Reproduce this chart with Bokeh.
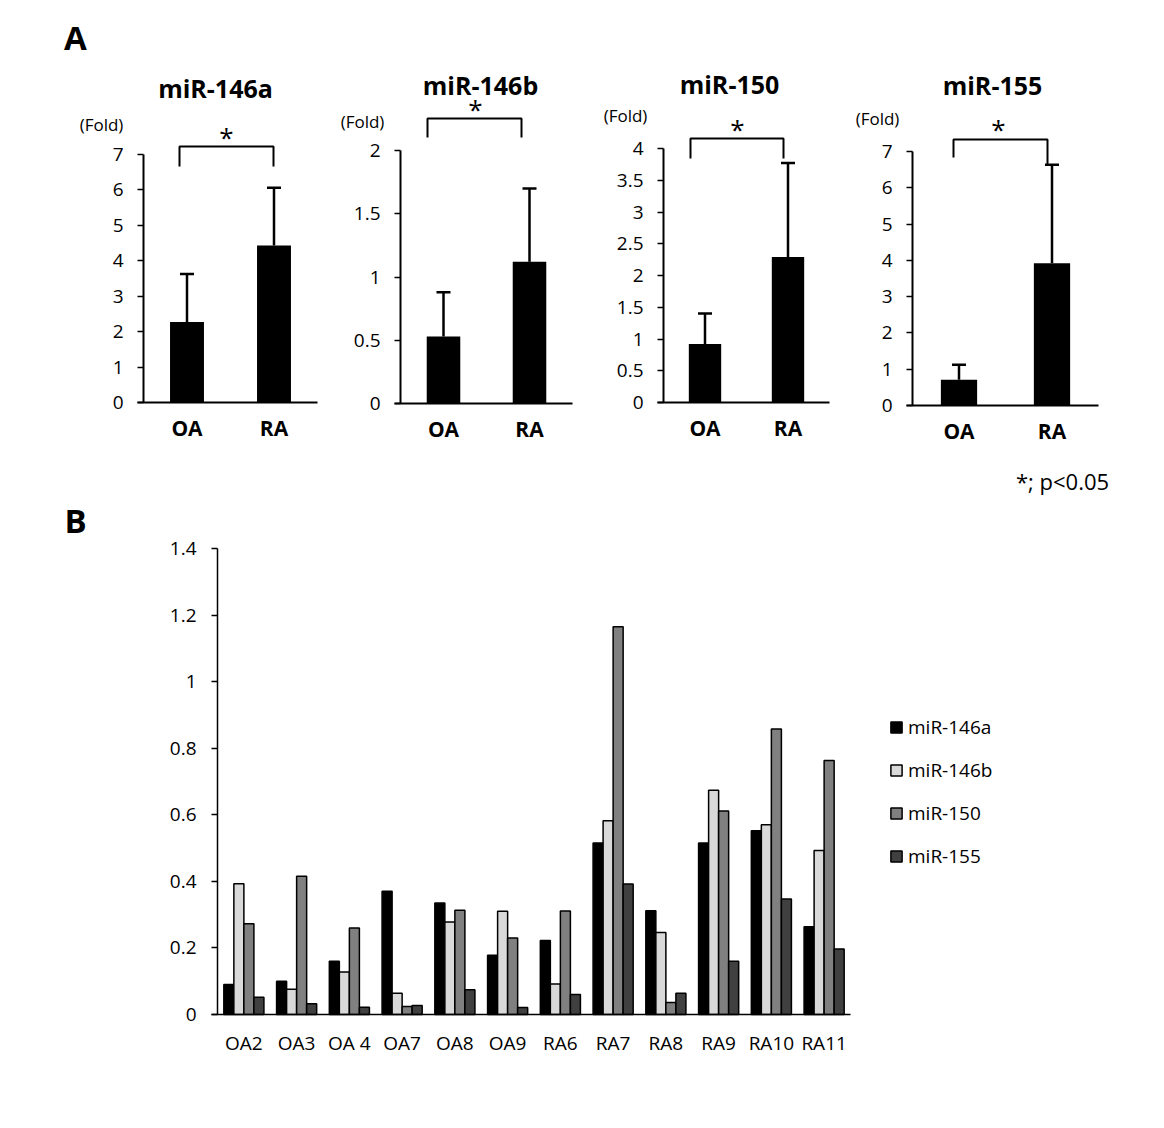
from bokeh.plotting import figure
from bokeh.layouts import row, column
from bokeh.models import (ColumnDataSource, Range1d, Whisker, TeeHead, Label, Legend,
                          LegendItem, FixedTicker, NumeralTickFormatter)
from bokeh.transform import dodge
from bokeh.embed import file_html
from bokeh.resources import INLINE

FONT = "Open Sans"

# ---------------- Panel A data ----------------
groups = ["OA", "RA"]
titles_a = ["miR-146a", "miR-146b", "miR-150", "miR-155"]
mean_146a = [2.27, 4.42]
sd_146a = [1.35, 1.63]
mean_146b = [0.53, 1.12]
sd_146b = [0.35, 0.58]
mean_150 = [0.92, 2.29]
sd_150 = [0.48, 1.48]
mean_155 = [0.71, 3.92]
sd_155 = [0.41, 2.71]
ticks_146a = [0, 1, 2, 3, 4, 5, 6, 7]
ticks_146b = [0, 0.5, 1, 1.5, 2]
ticks_150 = [0, 0.5, 1, 1.5, 2, 2.5, 3, 3.5, 4]
ticks_155 = [0, 1, 2, 3, 4, 5, 6, 7]

# ---------------- Panel B data ----------------
samples = ["OA2", "OA3", "OA 4", "OA7", "OA8", "OA9", "RA6", "RA7", "RA8", "RA9", "RA10", "RA11"]
series_names = ["miR-146a", "miR-146b", "miR-150", "miR-155"]
b_146a = [0.090, 0.100, 0.160, 0.370, 0.335, 0.178, 0.222, 0.515, 0.312, 0.515, 0.552, 0.264]
b_146b = [0.393, 0.076, 0.128, 0.064, 0.278, 0.310, 0.092, 0.582, 0.246, 0.674, 0.570, 0.493]
b_150 = [0.273, 0.415, 0.260, 0.024, 0.313, 0.230, 0.311, 1.165, 0.036, 0.611, 0.858, 0.763]
b_155 = [0.052, 0.032, 0.022, 0.027, 0.074, 0.021, 0.060, 0.392, 0.064, 0.160, 0.347, 0.197]
ticks_b = [0, 0.2, 0.4, 0.6, 0.8, 1.0, 1.2, 1.4]

ROW_H = 498
TOTAL_W = 1156
B_H = 622


class PixMap:
    """Maps page pixel positions to data coordinates (category index / value)."""
    def __init__(self, c0, sx, zero, ppu):
        self.c0, self.sx, self.zero, self.ppu = c0, sx, zero, ppu

    def x(self, px):
        return (px - self.c0) / self.sx

    def y(self, py):
        return (self.zero - py) / self.ppu


def new_fig(m, fx0, fx1, fy0, fy1):
    p = figure(x_range=Range1d(m.x(fx0), m.x(fx1)), y_range=Range1d(m.y(fy1), m.y(fy0)),
               width=fx1 - fx0, height=fy1 - fy0, min_border=0, min_border_left=0,
               min_border_right=0, min_border_top=0, min_border_bottom=0,
               output_backend="svg", toolbar_location=None, tools="")
    p.xgrid.visible = False
    p.ygrid.visible = False
    p.outline_line_color = None
    p.background_fill_color = "white"
    p.border_fill_color = "white"
    return p


def style_axes(p, m, cats, ticks, xlabel_size, ylabel_size, xlabel_style, line_w,
               standoff_x, standoff_y):
    p.xaxis.fixed_location = 0
    p.yaxis.fixed_location = -0.5
    p.xaxis.bounds = (-0.5 - 6.0 / m.sx, len(cats) - 0.5)
    p.yaxis.bounds = (0, ticks[-1])
    p.xaxis.ticker = FixedTicker(ticks=list(range(len(cats))))
    p.xaxis.major_label_overrides = {i: c for i, c in enumerate(cats)}
    p.xaxis.major_tick_line_color = None
    p.xaxis.major_tick_out = 0
    p.xaxis.major_tick_in = 0
    p.xaxis.minor_tick_line_color = None
    p.xaxis.major_label_text_font = FONT
    p.xaxis.major_label_text_font_size = xlabel_size
    p.xaxis.major_label_text_font_style = xlabel_style
    p.xaxis.major_label_text_color = "black"
    p.xaxis.major_label_standoff = standoff_x
    p.yaxis.ticker = FixedTicker(ticks=ticks)
    p.yaxis.formatter = NumeralTickFormatter(format="0.[0]")
    p.yaxis.major_tick_out = 6
    p.yaxis.major_tick_in = 0
    p.yaxis.major_tick_line_width = 1.5
    p.yaxis.minor_tick_line_color = None
    p.yaxis.major_label_text_font = FONT
    p.yaxis.major_label_text_font_size = ylabel_size
    p.yaxis.major_label_text_color = "black"
    p.yaxis.major_label_standoff = standoff_y
    for ax in (p.xaxis, p.yaxis):
        ax.axis_line_color = "black"
        ax.axis_line_width = line_w


def add_text(p, m, px, py, txt, size, style="normal"):
    p.add_layout(Label(x=m.x(px), y=m.y(py), text=txt, text_align="center",
                       text_baseline="middle", text_font=FONT, text_font_size=size,
                       text_font_style=style, text_color="black"))


def panel_a(cfg, title, means, sds, ticks):
    fl, fw = cfg["fl"], cfg["fw"]
    m = PixMap(fl + fw / 4.0, fw / 2.0, cfg["zero"], cfg["ppu"])
    p = new_fig(m, cfg["fx0"], cfg["fx1"], 0, ROW_H)
    style_axes(p, m, groups, ticks, "21px", "19px", "bold", 2, 11, 14)

    idx = list(range(len(groups)))
    src = ColumnDataSource(dict(x=idx, mean=means, upper=[a + b for a, b in zip(means, sds)]))
    p.vbar(x="x", top="mean", width=0.39, source=src, fill_color="black", line_color=None)
    p.add_layout(Whisker(source=src, base="x", lower="mean", upper="upper",
                         dimension="height", line_color="black", line_width=2.5,
                         upper_head=TeeHead(size=14, line_color="black", line_width=2.5),
                         lower_head=None))

    bx0, bx1, btop, bl, br = cfg["bracket"]
    p.line(x=[m.x(bx0), m.x(bx0), m.x(bx1), m.x(bx1)],
           y=[m.y(bl), m.y(btop), m.y(btop), m.y(br)], line_color="black", line_width=2)
    add_text(p, m, *cfg["star"], "*", "26px")
    add_text(p, m, *cfg["title"], title, "25px", "bold")
    add_text(p, m, *cfg["fold"], "(Fold)", "17px")
    for (ex, ey, txt, size, style) in cfg.get("extra", []):
        add_text(p, m, ex, ey, txt, size, style)
    return p


cfgs = [
    dict(fx0=0, fx1=330, fl=143, fw=174, zero=402, ppu=35.5,
         bracket=(179, 273, 146, 166, 166), star=(226, 136), title=(215, 87), fold=(101, 124),
         extra=[(75, 37, "A", "33px", "bold")]),
    dict(fx0=330, fx1=590, fl=400, fw=172, zero=403, ppu=126.5,
         bracket=(427, 521, 118, 137, 137), star=(475, 108), title=(480, 84), fold=(362, 121)),
    dict(fx0=590, fx1=850, fl=663, fw=166, zero=402, ppu=63.5,
         bracket=(690, 783, 138, 158, 158), star=(737, 128), title=(729, 83), fold=(625, 115)),
    dict(fx0=850, fx1=TOTAL_W, fl=912, fw=186, zero=405, ppu=36.3,
         bracket=(953, 1047, 139, 157, 164), star=(998, 128), title=(992, 84), fold=(877, 118),
         extra=[(1062, 480, "*; p<0.05", "22px", "normal")]),
]
means_all = [mean_146a, mean_146b, mean_150, mean_155]
sds_all = [sd_146a, sd_146b, sd_150, sd_155]
ticks_all = [ticks_146a, ticks_146b, ticks_150, ticks_155]
figs_a = [panel_a(c, t, mm, s, tk) for c, t, mm, s, tk in
          zip(cfgs, titles_a, means_all, sds_all, ticks_all)]

# ---------------- Panel B ----------------
fl_b, fw_b = 217, 633
cat_w = fw_b / len(samples)
mb = PixMap(fl_b + cat_w / 2.0, cat_w, 1014, 466 / 1.4)
pb = new_fig(mb, 0, TOTAL_W, ROW_H, ROW_H + B_H)
style_axes(pb, mb, samples, ticks_b, "19px", "19px", "normal", 1.5, 15, 15)

src_b = ColumnDataSource(dict(x=list(range(len(samples))), a=b_146a, b=b_146b, c=b_150, d=b_155))
colors = ["#000000", "#d9d9d9", "#808080", "#404040"]
offsets = [-0.285, -0.095, 0.095, 0.285]
renderers = []
for col, off, colr in zip(["a", "b", "c", "d"], offsets, colors):
    r = pb.vbar(x=dodge("x", off), top=col, width=0.19, source=src_b,
                fill_color=colr, line_color="black", line_width=1.5)
    renderers.append(r)

legend = Legend(items=[LegendItem(label=n, renderers=[r]) for n, r in zip(series_names, renderers)],
                location=(889, 251), orientation="vertical", glyph_width=14, glyph_height=14,
                label_standoff=5, spacing=17, padding=0, margin=0, border_line_color=None,
                background_fill_alpha=0, label_text_font=FONT, label_text_font_size="19px",
                label_text_color="black", label_height=20)
pb.add_layout(legend)
add_text(pb, mb, 75, 520, "B", "33px", "bold")

layout = column(row(*figs_a, spacing=0), pb, spacing=0)
open("out.html", "w").write(file_html(layout, INLINE))
